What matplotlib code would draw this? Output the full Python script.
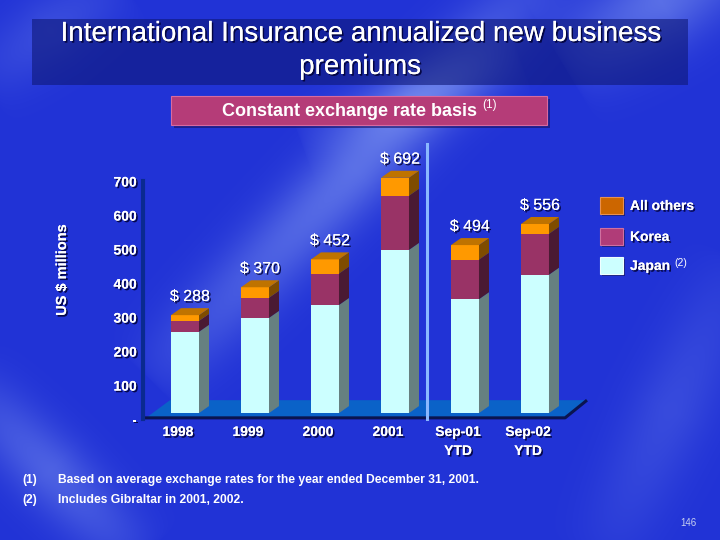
import numpy as np
import matplotlib
matplotlib.use("Agg")
import matplotlib.pyplot as plt
import matplotlib.patheffects as pe
from matplotlib.patches import Polygon, Rectangle
from matplotlib.transforms import ScaledTranslation

# ---- data (US $ millions, constant exchange rate basis) ----
categories = ["1998", "1999", "2000", "2001", "Sep-01\nYTD", "Sep-02\nYTD"]
japan = [239, 280, 318, 480, 335, 407]
korea = [32, 59, 92, 159, 116, 120]
all_others = [17, 31, 42, 53, 43, 29]
totals = [288, 370, 452, 692, 494, 556]
y_ticks = [0, 100, 200, 300, 400, 500, 600, 700]
y_ticklabels = ["-", "100", "200", "300", "400", "500", "600", "700"]
series_names = ["All others", "Korea", "Japan"]

FONT = "Liberation Sans"
shadow = [pe.withSimplePatchShadow(offset=(1.2, -1.2), shadow_rgbFace="#000033", alpha=0.85),
          pe.Normal()]

fig = plt.figure(figsize=(7.2, 5.4), dpi=100)

# ---- background (pixel coords) ----
bg = fig.add_axes([0, 0, 1, 1])
bg.set_xlim(0, 720)
bg.set_ylim(540, 0)
bg.axis("off")
yy, xx = np.mgrid[0:540, 0:720]


def band(x0, y0, x1, y1, w):
    dx, dy = x1 - x0, y1 - y0
    L = np.hypot(dx, dy)
    d = np.abs((xx - x0) * dy - (yy - y0) * dx) / L
    t = ((xx - x0) * dx + (yy - y0) * dy) / L**2
    fade = np.clip(1 - np.abs(t - 0.5) * 2, 0, 1) ** 0.5
    return np.exp(-(d / w) ** 2) * fade


light = (0.45 * band(560, -40, 150, 380, 38)
         + 0.25 * band(300, 140, 520, 60, 30)
         + 0.45 * band(760, -60, 560, 60, 45)
         + 0.35 * band(-40, 380, 140, 560, 35)
         + 0.18 * band(740, 260, 600, 560, 40)
         + 0.2 * band(-20, 80, 120, -20, 35))
light = np.clip(light, 0, 1)[..., None]
base = np.array([0.13, 0.20, 0.84])
hi = np.array([0.62, 0.72, 0.98])
img = base * (1 - light) + hi * light
bg.imshow(img, extent=[0, 720, 540, 0], aspect="auto", zorder=0)

# title box
bg.add_patch(Rectangle((32, 19), 656, 66, facecolor="#0e1878", alpha=0.6,
                       edgecolor="none", zorder=1))
bg.text(360, 34, "International Insurance annualized new business", ha="center",
        va="center", color="white", fontsize=20, family=FONT, path_effects=shadow, zorder=2)
bg.text(360, 67, "premiums", ha="center", va="center", color="white",
        fontsize=20, family=FONT, path_effects=shadow, zorder=2)

# subtitle box
bg.add_patch(Rectangle((174, 99), 376, 29, facecolor="#1a1060", alpha=0.6,
                       edgecolor="none", zorder=1))
bg.add_patch(Rectangle((171, 96), 376, 29, facecolor="#b53c78",
                       edgecolor="#d86aa0", linewidth=0.8, zorder=2))
bg.text(350, 112, "Constant exchange rate basis", ha="center", va="center",
        color="white", fontsize=13, fontweight="bold", family=FONT, zorder=3)
bg.text(482, 105, "(1)", ha="left", va="center", color="white", fontsize=8.5,
        family=FONT, zorder=3)

# y label
bg.text(62, 270, "US $ millions", rotation=90, ha="center", va="center",
        color="white", fontsize=10.5, fontweight="bold", family=FONT,
        path_effects=shadow, zorder=2)

# footnotes
notes = ["Based on average exchange rates for the year ended December 31, 2001.",
         "Includes Gibraltar in 2001, 2002."]
for i, note in enumerate(notes):
    y = 480 + 20 * i
    bg.text(22, y, f"({i + 1})", ha="left", va="center", color="white",
            fontsize=8.7, fontweight="bold", family=FONT, zorder=2)
    bg.text(58, y, note, ha="left", va="center", color="white",
            fontsize=8.7, fontweight="bold", family=FONT, zorder=2)
bg.text(697, 523, "146", ha="right", va="center", color="#c8d0f0",
        fontsize=7, family=FONT, zorder=2)

# ---- chart axes ----
# px mapping: x = 185 + 70*i, y = 413 - 0.34*v
ax = fig.add_axes([143 / 720, (540 - 425) / 540, 447 / 720, 285 / 540])
ax.patch.set_alpha(0)
ax.set_xlim(-0.6, 5.786)
ax.set_ylim(-35, 803)

W = 0.4
DX = 10 / 70
DY = 7 / 0.34
x = np.arange(len(categories))

# floor
ax.add_patch(Polygon([(-0.543, -12), (-0.214, 38), (5.743, 38), (5.43, -12)],
                     closed=True, facecolor="#0a62c8", edgecolor="none", zorder=1))
ax.plot([-0.6, 5.43, 5.743], [-14, -14, 38], color="#0a1450", lw=2.2,
        zorder=1.5, solid_capstyle="butt")

segments = [
    (japan, "#ccffff", "#668080"),
    (korea, "#993366", "#4a1a33"),
    (all_others, "#ff9900", "#7f4c00"),
]
bottom = np.zeros(len(x))
for vals, front, side in segments:
    vals = np.array(vals, dtype=float)
    ax.bar(x, vals, W, bottom=bottom, color=front, edgecolor="none", zorder=3)
    for xi, b, v in zip(x, bottom, vals):
        r = xi + W / 2
        ax.add_patch(Polygon([(r, b), (r + DX, b + DY), (r + DX, b + v + DY), (r, b + v)],
                             closed=True, facecolor=side, edgecolor="none", zorder=3))
    bottom = bottom + vals
# top faces
for xi, t in zip(x, bottom):
    l, r = xi - W / 2, xi + W / 2
    ax.add_patch(Polygon([(l, t), (l + DX, t + DY), (r + DX, t + DY), (r, t)],
                         closed=True, facecolor="#bf7300", edgecolor="none", zorder=3))

# total labels
for xi, t, tot in zip(x, bottom, totals):
    ax.annotate(f"$ {tot}", (xi + DX / 2, t + DY), xytext=(0, 3),
                textcoords="offset points", ha="center", va="bottom",
                color="white", fontsize=11.5, family=FONT, path_effects=shadow, zorder=5)

# divider between full years and YTD
ax.plot([3.46, 3.46], [-16, 791], color="#8ab8ff", lw=2.2, zorder=4)

# axes styling
for s in ["top", "right", "bottom"]:
    ax.spines[s].set_visible(False)
ax.spines["left"].set_color("#0a2a90")
ax.spines["left"].set_linewidth(3)
ax.spines["left"].set_bounds(-18, 682)
ax.set_yticks(y_ticks)
ax.set_yticklabels(y_ticklabels)
ax.tick_params(axis="y", length=0, pad=4.5)
ax.set_xticks(x)
ax.set_xticklabels(categories, linespacing=1.45)
ax.tick_params(axis="x", length=0, pad=0)
off_y = ScaledTranslation(0, -6 / 100, fig.dpi_scale_trans)
off_x = ScaledTranslation(-7 / 100, 0, fig.dpi_scale_trans)
for lab in ax.get_yticklabels():
    lab.set_transform(lab.get_transform() + off_y)
    lab.set_fontsize(10)
for lab in ax.get_xticklabels():
    lab.set_transform(lab.get_transform() + off_x)
    lab.set_fontsize(10)
for lab in ax.get_yticklabels() + ax.get_xticklabels():
    lab.set_color("white")
    lab.set_fontweight("bold")
    lab.set_family(FONT)
    lab.set_path_effects(shadow)

# legend (drawn as keyed swatches, top to bottom)
legend_colors = ["#cc6600", "#b03c78", "#ccffff"]
legend_edges = ["#e89050", "#d070a0", "#f0ffff"]
legend_rows = [197, 228, 257]
for name, fc, ec, ytop in zip(series_names, legend_colors, legend_edges, legend_rows):
    bg.add_patch(Rectangle((602, ytop + 2), 23, 17, facecolor="#10104a", alpha=0.6,
                           edgecolor="none", zorder=2))
    bg.add_patch(Rectangle((600, ytop), 23, 17, facecolor=fc, edgecolor=ec,
                           linewidth=0.8, zorder=3))
    bg.text(630, ytop + 9, name, ha="left", va="center", color="white",
            fontsize=10, fontweight="bold", family=FONT, path_effects=shadow, zorder=3)
bg.text(674, legend_rows[2] + 6, "(2)", ha="left", va="center", color="white",
        fontsize=7.5, family=FONT, zorder=3)

fig.savefig("out.png", dpi=100)
